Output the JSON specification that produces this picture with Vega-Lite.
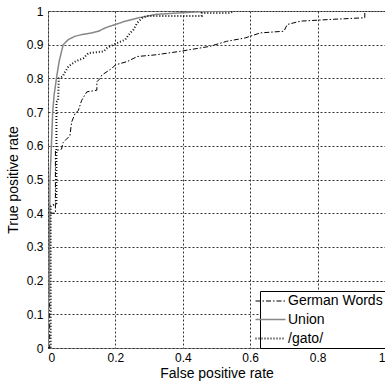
{
  "$schema": "https://vega.github.io/schema/vega-lite/v6.json",
  "width": 337,
  "height": 337,
  "autosize": {"type": "none"},
  "padding": {"left": 48, "top": 11, "right": 0, "bottom": 33},
  "background": "white",
  "config": {
    "font": "Liberation Sans",
    "view": {"stroke": "#888", "strokeWidth": 1},
    "axis": {
      "labelFont": "Liberation Sans",
      "titleFont": "Liberation Sans",
      "labelFontSize": 12,
      "titleFontSize": 14,
      "titleFontWeight": "normal",
      "labelColor": "black",
      "titleColor": "black",
      "domain": false,
      "ticks": false,
      "grid": true,
      "gridColor": "#333",
      "gridDash": [2, 2],
      "gridWidth": 1,
      "gridOpacity": 1
    },
    "legend": {
      "orient": "bottom-right",
      "offset": 0,
      "fillColor": "white",
      "strokeColor": "black",
      "padding": 2,
      "symbolType": "M-2,0H2",
      "symbolSize": 225,
      "labelFont": "Liberation Sans",
      "labelFontSize": 14,
      "labelColor": "black",
      "labelOffset": 9,
      "rowPadding": 3
    }
  },
  "datasets": {
    "roc": [
      {"s": "German Words", "i": 0, "fpr": 0, "tpr": 0},
      {"s": "German Words", "i": 1, "fpr": 0.005, "tpr": 0},
      {"s": "German Words", "i": 2, "fpr": 0.005, "tpr": 0.4},
      {"s": "German Words", "i": 3, "fpr": 0.022, "tpr": 0.4},
      {"s": "German Words", "i": 4, "fpr": 0.022, "tpr": 0.585},
      {"s": "German Words", "i": 5, "fpr": 0.04, "tpr": 0.59},
      {"s": "German Words", "i": 6, "fpr": 0.045, "tpr": 0.61},
      {"s": "German Words", "i": 7, "fpr": 0.065, "tpr": 0.63},
      {"s": "German Words", "i": 8, "fpr": 0.07, "tpr": 0.67},
      {"s": "German Words", "i": 9, "fpr": 0.08, "tpr": 0.695},
      {"s": "German Words", "i": 10, "fpr": 0.09, "tpr": 0.705},
      {"s": "German Words", "i": 11, "fpr": 0.1, "tpr": 0.735},
      {"s": "German Words", "i": 12, "fpr": 0.115, "tpr": 0.76},
      {"s": "German Words", "i": 13, "fpr": 0.145, "tpr": 0.765},
      {"s": "German Words", "i": 14, "fpr": 0.145, "tpr": 0.79},
      {"s": "German Words", "i": 15, "fpr": 0.155, "tpr": 0.8},
      {"s": "German Words", "i": 16, "fpr": 0.16, "tpr": 0.81},
      {"s": "German Words", "i": 17, "fpr": 0.175, "tpr": 0.82},
      {"s": "German Words", "i": 18, "fpr": 0.19, "tpr": 0.83},
      {"s": "German Words", "i": 19, "fpr": 0.2, "tpr": 0.84},
      {"s": "German Words", "i": 20, "fpr": 0.235, "tpr": 0.85},
      {"s": "German Words", "i": 21, "fpr": 0.265, "tpr": 0.865},
      {"s": "German Words", "i": 22, "fpr": 0.32, "tpr": 0.87},
      {"s": "German Words", "i": 23, "fpr": 0.39, "tpr": 0.88},
      {"s": "German Words", "i": 24, "fpr": 0.45, "tpr": 0.89},
      {"s": "German Words", "i": 25, "fpr": 0.48, "tpr": 0.895},
      {"s": "German Words", "i": 26, "fpr": 0.53, "tpr": 0.91},
      {"s": "German Words", "i": 27, "fpr": 0.585, "tpr": 0.92},
      {"s": "German Words", "i": 28, "fpr": 0.63, "tpr": 0.935},
      {"s": "German Words", "i": 29, "fpr": 0.7, "tpr": 0.94},
      {"s": "German Words", "i": 30, "fpr": 0.71, "tpr": 0.96},
      {"s": "German Words", "i": 31, "fpr": 0.75, "tpr": 0.97},
      {"s": "German Words", "i": 32, "fpr": 0.84, "tpr": 0.975},
      {"s": "German Words", "i": 33, "fpr": 0.94, "tpr": 0.98},
      {"s": "German Words", "i": 34, "fpr": 0.94, "tpr": 1},
      {"s": "German Words", "i": 35, "fpr": 1, "tpr": 1},
      {"s": "Union", "i": 0, "fpr": 0, "tpr": 0},
      {"s": "Union", "i": 1, "fpr": 0, "tpr": 0.15},
      {"s": "Union", "i": 2, "fpr": 0.004, "tpr": 0.15},
      {"s": "Union", "i": 3, "fpr": 0.004, "tpr": 0.23},
      {"s": "Union", "i": 4, "fpr": 0.006, "tpr": 0.5},
      {"s": "Union", "i": 5, "fpr": 0.01, "tpr": 0.6},
      {"s": "Union", "i": 6, "fpr": 0.014, "tpr": 0.7},
      {"s": "Union", "i": 7, "fpr": 0.018, "tpr": 0.75},
      {"s": "Union", "i": 8, "fpr": 0.025, "tpr": 0.8},
      {"s": "Union", "i": 9, "fpr": 0.033, "tpr": 0.85},
      {"s": "Union", "i": 10, "fpr": 0.045, "tpr": 0.9},
      {"s": "Union", "i": 11, "fpr": 0.06, "tpr": 0.915},
      {"s": "Union", "i": 12, "fpr": 0.08, "tpr": 0.925},
      {"s": "Union", "i": 13, "fpr": 0.1, "tpr": 0.93},
      {"s": "Union", "i": 14, "fpr": 0.13, "tpr": 0.935},
      {"s": "Union", "i": 15, "fpr": 0.15, "tpr": 0.94},
      {"s": "Union", "i": 16, "fpr": 0.17, "tpr": 0.95},
      {"s": "Union", "i": 17, "fpr": 0.2, "tpr": 0.96},
      {"s": "Union", "i": 18, "fpr": 0.23, "tpr": 0.97},
      {"s": "Union", "i": 19, "fpr": 0.27, "tpr": 0.98},
      {"s": "Union", "i": 20, "fpr": 0.32, "tpr": 0.99},
      {"s": "Union", "i": 21, "fpr": 0.4, "tpr": 0.995},
      {"s": "Union", "i": 22, "fpr": 0.5, "tpr": 1},
      {"s": "Union", "i": 23, "fpr": 1, "tpr": 1},
      {"s": "/gato/", "i": 0, "fpr": 0, "tpr": 0},
      {"s": "/gato/", "i": 1, "fpr": 0.008, "tpr": 0},
      {"s": "/gato/", "i": 2, "fpr": 0.008, "tpr": 0.42},
      {"s": "/gato/", "i": 3, "fpr": 0.025, "tpr": 0.43},
      {"s": "/gato/", "i": 4, "fpr": 0.025, "tpr": 0.73},
      {"s": "/gato/", "i": 5, "fpr": 0.03, "tpr": 0.735},
      {"s": "/gato/", "i": 6, "fpr": 0.032, "tpr": 0.8},
      {"s": "/gato/", "i": 7, "fpr": 0.044, "tpr": 0.806},
      {"s": "/gato/", "i": 8, "fpr": 0.051, "tpr": 0.82},
      {"s": "/gato/", "i": 9, "fpr": 0.061, "tpr": 0.836},
      {"s": "/gato/", "i": 10, "fpr": 0.081, "tpr": 0.85},
      {"s": "/gato/", "i": 11, "fpr": 0.105, "tpr": 0.86},
      {"s": "/gato/", "i": 12, "fpr": 0.12, "tpr": 0.875},
      {"s": "/gato/", "i": 13, "fpr": 0.165, "tpr": 0.88},
      {"s": "/gato/", "i": 14, "fpr": 0.175, "tpr": 0.89},
      {"s": "/gato/", "i": 15, "fpr": 0.194, "tpr": 0.9},
      {"s": "/gato/", "i": 16, "fpr": 0.229, "tpr": 0.915},
      {"s": "/gato/", "i": 17, "fpr": 0.244, "tpr": 0.935},
      {"s": "/gato/", "i": 18, "fpr": 0.254, "tpr": 0.945},
      {"s": "/gato/", "i": 19, "fpr": 0.264, "tpr": 0.964},
      {"s": "/gato/", "i": 20, "fpr": 0.279, "tpr": 0.979},
      {"s": "/gato/", "i": 21, "fpr": 0.293, "tpr": 0.985},
      {"s": "/gato/", "i": 22, "fpr": 0.456, "tpr": 0.985},
      {"s": "/gato/", "i": 23, "fpr": 0.456, "tpr": 0.994},
      {"s": "/gato/", "i": 24, "fpr": 0.54, "tpr": 0.994},
      {"s": "/gato/", "i": 25, "fpr": 0.55, "tpr": 1},
      {"s": "/gato/", "i": 26, "fpr": 1, "tpr": 1}
    ]
  },
  "data": {"name": "roc"},
  "mark": {"type": "line", "clip": true},
  "encoding": {
    "x": {
      "field": "fpr",
      "type": "quantitative",
      "scale": {"domain": [0, 1], "nice": false},
      "axis": {"values": [0, 0.2, 0.4, 0.6, 0.8, 1], "format": "~g", "title": "False positive rate", "labelPadding": 4, "titlePadding": 3}
    },
    "y": {
      "field": "tpr",
      "type": "quantitative",
      "scale": {"domain": [0, 1], "nice": false},
      "axis": {"values": [0, 0.1, 0.2, 0.3, 0.4, 0.5, 0.6, 0.7, 0.8, 0.9, 1], "format": "~g", "title": "True positive rate", "labelPadding": 5, "titlePadding": 6}
    },
    "order": {"field": "i", "type": "quantitative"},
    "color": {
      "field": "s",
      "type": "nominal",
      "title": null,
      "scale": {"domain": ["German Words", "Union", "/gato/"], "range": ["black", "#888888", "#111111"]}
    },
    "strokeDash": {
      "field": "s",
      "type": "nominal",
      "title": null,
      "scale": {"domain": ["German Words", "Union", "/gato/"], "range": [[5, 2, 1.5, 2], [1, 0], [1, 2]]}
    },
    "strokeWidth": {
      "field": "s",
      "type": "nominal",
      "title": null,
      "scale": {"domain": ["German Words", "Union", "/gato/"], "range": [1, 2, 1]}
    }
  }
}
